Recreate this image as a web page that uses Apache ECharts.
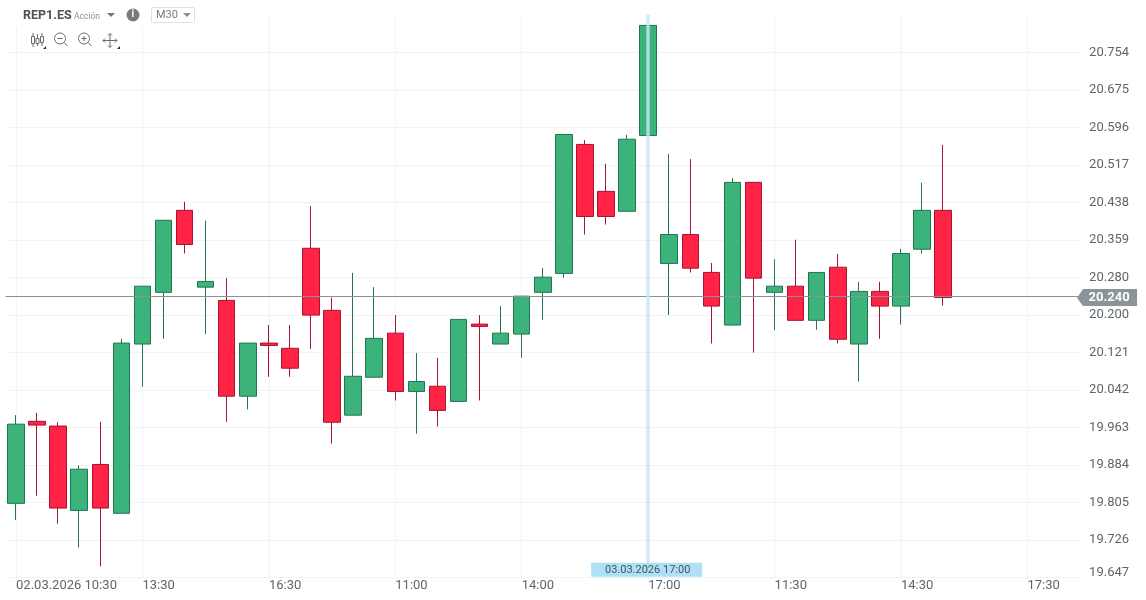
<!doctype html>
<html>
  <head>
    <title>REP1.ES M30</title>
    <meta charset="utf-8">
    <script src="https://cdn.jsdelivr.net/npm/echarts@6/dist/echarts.min.js"></script>
    <style>
      html,body{margin:0;padding:0;background:#fff;}
    </style>
  </head>
  <body>
    <div id="main" style="width:1146px;height:600px;"></div>
  </body>
  <script>
   // time axis, one slot per 30 min candle (the last slots are still empty)
   var times = ['02.03.2026 10:30','11:00','11:30','12:00','12:30','13:00','13:30','14:00','14:30','15:00','15:30','16:00','16:30','17:00','17:30',
     '09:30','10:00','10:30','11:00','11:30','12:00','12:30','13:00','13:30','14:00','14:30','15:00','15:30','16:00','16:30','17:00','17:30',
     '09:30','10:00','10:30','11:00','11:30','12:00','12:30','13:00','13:30','14:00','14:30','15:00','15:30','16:00','16:30','17:00','17:30','18:00','18:30'];
   var opens = [19.803,19.976,19.966,19.788,19.885,19.782,20.139,20.248,20.421,20.259,20.231,20.029,20.141,20.130,20.341,20.210,19.989,20.069,20.162,20.039,20.050,20.018,20.181,
     20.139,20.160,20.248,20.288,20.560,20.461,20.419,20.579,20.309,20.370,20.290,20.179,20.480,20.248,20.261,20.189,20.301,20.139,20.250,20.219,20.339,20.421];
   var closes = [19.970,19.968,19.793,19.875,19.793,20.141,20.261,20.400,20.349,20.271,20.029,20.141,20.136,20.088,20.200,19.974,20.071,20.151,20.039,20.060,19.999,20.191,20.176,
     20.162,20.240,20.280,20.581,20.408,20.408,20.571,20.811,20.370,20.299,20.219,20.480,20.278,20.261,20.189,20.290,20.149,20.250,20.219,20.330,20.421,20.237];
   var lows = [19.768,19.819,19.760,19.710,19.670,19.782,20.049,20.150,20.330,20.160,19.975,20.001,20.070,20.070,20.129,19.929,19.989,20.069,20.020,19.950,19.965,20.018,20.020,
     20.139,20.110,20.190,20.279,20.370,20.391,20.419,20.579,20.200,20.290,20.140,20.179,20.121,20.169,20.189,20.169,20.140,20.060,20.150,20.180,20.330,20.220];
   var highs = [19.989,19.994,19.974,19.883,19.975,20.150,20.261,20.400,20.439,20.399,20.278,20.141,20.179,20.179,20.430,20.237,20.289,20.259,20.200,20.120,20.110,20.191,20.200,
     20.219,20.240,20.299,20.581,20.569,20.519,20.580,20.811,20.540,20.529,20.310,20.489,20.480,20.318,20.359,20.290,20.329,20.270,20.270,20.340,20.479,20.559];
   var lastPrice = closes[closes.length - 1];
   var lastPriceLabel = '20.240';
   var crossIndex = 30;
   var crossLabel = '03.03.2026 17:00';

   var candles = [];
   for (var i = 0; i < opens.length; i++) {
     candles.push([opens[i], closes[i], lows[i], highs[i]]);
   }

   var every6 = function(idx){ return idx % 6 === 0; };
   var gridColor = '#f2f3f4';
   var iconColor = '#666c70';

   var myChart = echarts.init(document.getElementById('main'));
   var option = {
     animation:false,
     backgroundColor:'#fff',
     textStyle:{fontFamily:'Roboto'},
     grid:{left:5.5,right:65.9,top:15,bottom:22.7},
     xAxis:{
       type:'category',
       data:times,
       boundaryGap:true,
       axisLine:{lineStyle:{color:gridColor}},
       axisTick:{show:true,alignWithLabel:true,interval:every6,length:3,lineStyle:{color:gridColor}},
       splitLine:{show:true,alignWithLabel:true,interval:every6,lineStyle:{color:gridColor,width:1}},
       axisLabel:{interval:every6,align:'left',margin:2,color:'#5f666b',fontSize:13,fontFamily:'Roboto',hideOverlap:false}
     },
     yAxis:{
       type:'value',
       position:'right',
       min:19.647,
       max:20.833,
       interval:0.07907,
       scale:true,
       axisLine:{show:false},
       axisTick:{show:false},
       splitLine:{show:true,showMaxLine:false,lineStyle:{color:gridColor,width:1}},
       axisLabel:{
         margin:9,
         color:'#5f666b',
         fontSize:13,
         fontFamily:'Roboto',
         lineHeight:9,
         padding:[4,0,0,0],
         showMaxLabel:false,
         verticalAlignMinLabel:'bottom',
         formatter:function(v){ return v.toFixed(3); }
       }
     },
     series:[{
       type:'candlestick',
       data:candles,
       barWidth:17,
       itemStyle:{
         color:'#3cb37a',
         color0:'#ff2346',
         borderColor:'#1f7650',
         borderColor0:'#a8142f',
         borderWidth:1
       },
       markLine:{
         silent:true,
         symbol:['none','none'],
         label:{show:false},
         data:[
           {yAxis:lastPrice,lineStyle:{color:'#8b9194',width:1,type:'solid',opacity:1}},
           {xAxis:crossIndex,lineStyle:{color:'#c4e6f7',width:3.5,type:'solid',opacity:0.8}}
         ]
       },
       markPoint:{
         silent:true,
         data:[
           {
             coord:[times.length - 1,lastPrice],
             symbol:'path://M0 9 L6 0 L60 0 L60 17 L6 17 Z',
             symbolKeepAspect:false,
             symbolSize:[60,17],
             symbolOffset:[37.5,0],
             itemStyle:{color:'#8a9499'},
             label:{show:true,position:'inside',offset:[2,0],formatter:lastPriceLabel,color:'#fff',fontSize:13,fontWeight:'bold',fontFamily:'Roboto'}
           },
           {
             coord:[crossIndex,19.647],
             symbol:'rect',
             symbolSize:[111,14],
             symbolOffset:[-1.5,-7.5],
             itemStyle:{color:'#aee0f7'},
             label:{show:true,position:'inside',offset:[1,0],formatter:crossLabel,color:'#4a5257',fontSize:11,fontFamily:'Roboto'}
           }
         ]
       }
     }],
     graphic:[
       // header and toolbar sit on a white patch above the grid
       {type:'rect',z:50,shape:{x:0,y:14,width:205,height:13},style:{fill:'#fff'}},
       {type:'rect',z:50,shape:{x:20,y:27,width:110,height:24},style:{fill:'#fff'}},
       {type:'text',z:51,x:23,y:9,style:{text:'REP1.ES',fill:'#4a5157',font:'bold 12.5px Roboto'}},
       {type:'text',z:51,x:74,y:12,style:{text:'Acción',fill:'#8c9195',font:'8.5px Roboto'}},
       {type:'polygon',z:51,shape:{points:[[107,13],[115,13],[111,17]]},style:{fill:'#777'}},
       {type:'circle',z:51,shape:{cx:133,cy:15,r:6.5},style:{fill:'#767b7f'}},
       {type:'text',z:52,x:131.5,y:9.5,style:{text:'i',fill:'#fff',font:'bold 10px Roboto'}},
       {type:'rect',z:51,shape:{x:151.5,y:7.5,width:43,height:15,r:1},style:{fill:'#fff',stroke:'#dfe1e3',lineWidth:1}},
       {type:'text',z:52,x:156,y:10,style:{text:'M30',fill:'#777c80',font:'11px Roboto'}},
       {type:'polygon',z:52,shape:{points:[[183,13],[191,13],[187,17]]},style:{fill:'#8a8f93'}},
       // candle icon
       {type:'line',z:51,shape:{x1:33,y1:33,x2:33,y2:47},style:{stroke:iconColor}},
       {type:'rect',z:51,shape:{x:31.5,y:36.5,width:3,height:7},style:{fill:'#fff',stroke:iconColor}},
       {type:'line',z:51,shape:{x1:37.5,y1:34,x2:37.5,y2:46},style:{stroke:iconColor}},
       {type:'rect',z:51,shape:{x:36,y:38.5,width:3,height:5},style:{fill:'#fff',stroke:iconColor}},
       {type:'line',z:51,shape:{x1:42,y1:33,x2:42,y2:46},style:{stroke:iconColor}},
       {type:'rect',z:51,shape:{x:40.5,y:36.5,width:3,height:6},style:{fill:'#fff',stroke:iconColor}},
       {type:'polygon',z:51,shape:{points:[[46,46],[46,49],[43,49]]},style:{fill:'#333'}},
       // zoom out
       {type:'circle',z:51,shape:{cx:60,cy:38.5,r:5.5},style:{fill:'#fff',stroke:iconColor}},
       {type:'line',z:51,shape:{x1:64,y1:42.5,x2:67.5,y2:46},style:{stroke:iconColor}},
       {type:'line',z:51,shape:{x1:57.5,y1:38.5,x2:62.5,y2:38.5},style:{stroke:iconColor}},
       // zoom in
       {type:'circle',z:51,shape:{cx:84,cy:38.5,r:5.5},style:{fill:'#fff',stroke:iconColor}},
       {type:'line',z:51,shape:{x1:88,y1:42.5,x2:91.5,y2:46},style:{stroke:iconColor}},
       {type:'line',z:51,shape:{x1:81.5,y1:38.5,x2:86.5,y2:38.5},style:{stroke:iconColor}},
       {type:'line',z:51,shape:{x1:84,y1:36,x2:84,y2:41},style:{stroke:iconColor}},
       // move
       {type:'line',z:51,shape:{x1:103,y1:40.5,x2:117,y2:40.5},style:{stroke:iconColor}},
       {type:'line',z:51,shape:{x1:110,y1:33.5,x2:110,y2:47.5},style:{stroke:iconColor}},
       {type:'polyline',z:51,shape:{points:[[105,38.5],[103,40.5],[105,42.5]]},style:{fill:'none',stroke:iconColor}},
       {type:'polyline',z:51,shape:{points:[[115,38.5],[117,40.5],[115,42.5]]},style:{fill:'none',stroke:iconColor}},
       {type:'polyline',z:51,shape:{points:[[108,35.5],[110,33.5],[112,35.5]]},style:{fill:'none',stroke:iconColor}},
       {type:'polyline',z:51,shape:{points:[[108,45.5],[110,47.5],[112,45.5]]},style:{fill:'none',stroke:iconColor}},
       {type:'polygon',z:51,shape:{points:[[120,46],[120,49],[117,49]]},style:{fill:'#333'}}
     ]
   };
   myChart.setOption(option);
  </script>
</html>
